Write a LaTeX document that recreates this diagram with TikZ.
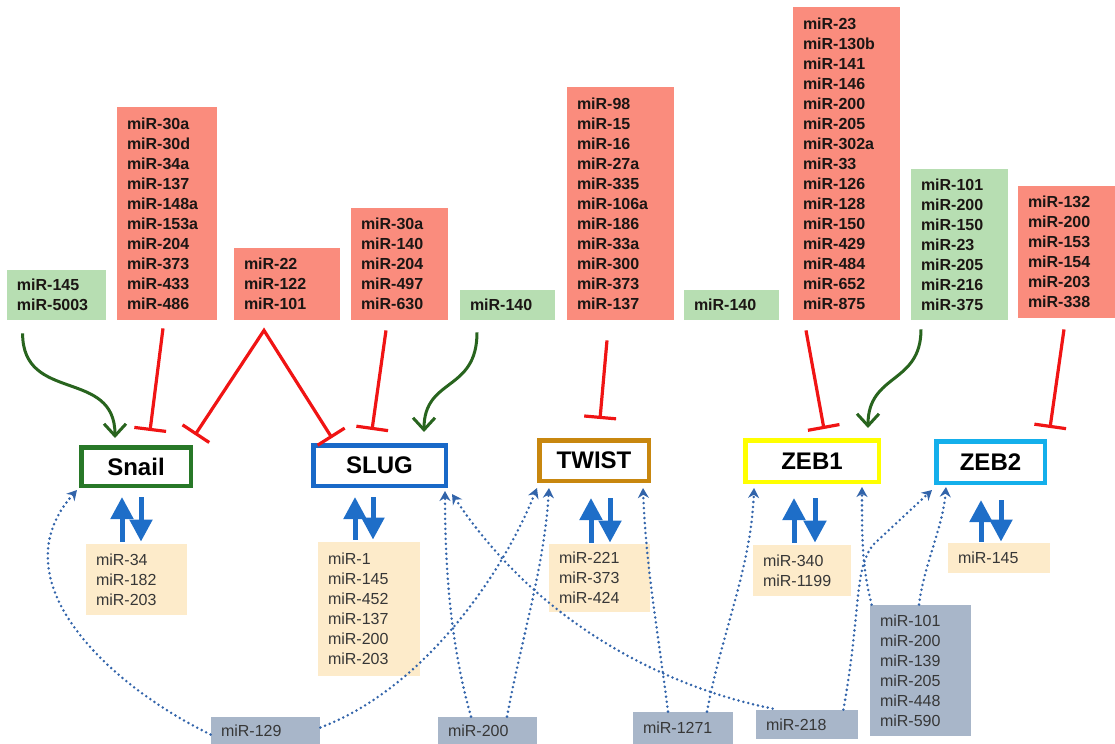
\documentclass[tikz,border=0pt]{standalone}
\usepackage{fontspec}
\setmainfont{Liberation Sans}
\usetikzlibrary{arrows.meta,calc}

\definecolor{RedFill}{RGB}{250,140,125}
\definecolor{GreenFill}{RGB}{183,222,178}
\definecolor{CreamFill}{RGB}{253,235,202}
\definecolor{GrayFill}{RGB}{168,182,201}
\definecolor{TopText}{RGB}{28,22,20}
\definecolor{LowText}{RGB}{55,55,55}
\definecolor{InhRed}{RGB}{240,20,20}
\definecolor{ActGreen}{RGB}{40,100,30}
\definecolor{LinkBlue}{RGB}{50,100,170}
\definecolor{ExBlue}{RGB}{30,110,200}
\definecolor{SnailC}{RGB}{40,120,40}
\definecolor{SlugC}{RGB}{25,105,200}
\definecolor{TwistC}{RGB}{200,135,15}
\definecolor{ZebOneC}{RGB}{255,255,0}
\definecolor{ZebTwoC}{RGB}{20,175,235}

\begin{document}
\begin{tikzpicture}[x=0.5pt,y=-0.5pt,
  mirtop/.style={inner xsep=5pt, inner ysep=0pt, align=left,
    font=\bfseries\fontsize{8}{10}\selectfont, text=TopText},
  redbox/.style={mirtop, fill=RedFill},
  greenbox/.style={mirtop, fill=GreenFill},
  mirlow/.style={inner xsep=5pt, inner ysep=0pt, align=left,
    font=\fontsize{8}{10}\selectfont, text=LowText},
  creambox/.style={mirlow, fill=CreamFill},
  graybox/.style={mirlow, fill=GrayFill},
  tf/.style={draw, line width=2.25pt, fill=white, inner sep=0pt,
    font=\bfseries\fontsize{12}{14}\selectfont, text=black},
  inhibit/.style={draw=InhRed, line width=1.6pt,
    -{Bar[width=16pt,line width=1.6pt]}},
  inhibitboth/.style={draw=InhRed, line width=1.6pt, line join=miter,
    {Bar[width=16pt,line width=1.6pt]}-{Bar[width=16pt,line width=1.6pt]}},
  activate/.style={draw=ActGreen, line width=1.5pt,
    -{Straight Barb[length=6pt,width=11pt,line width=1.5pt]}},
  link/.style={draw=LinkBlue, line width=1.4pt, dash pattern=on 0pt off 2.5pt,
    line cap=round, -{Stealth[length=5pt,width=5.5pt]}},
  exch/.style={draw=ExBlue, line width=2.5pt,
    -{Triangle[length=11pt,width=11pt]}}
]
\useasboundingbox (0,0) rectangle (1115,744);

% upstream miRNA groups
\node[greenbox, text width=39.5pt, minimum height=25pt] (g1) at (56.5,295) {miR-145\\miR-5003};
\node[redbox, text width=40pt, minimum height=106.5pt] (r1) at (167,213.5)
  {miR-30a\\miR-30d\\miR-34a\\miR-137\\miR-148a\\miR-153a\\miR-204\\miR-373\\miR-433\\miR-486};
\node[redbox, text width=43pt, minimum height=36pt] (r2) at (287,284) {miR-22\\miR-122\\miR-101};
\node[redbox, text width=38.5pt, minimum height=56pt] (r3) at (399.5,264)
  {miR-30a\\miR-140\\miR-204\\miR-497\\miR-630};
\node[greenbox, text width=37.5pt, minimum height=15pt] (g2) at (507.5,305) {miR-140};
\node[redbox, text width=43.5pt, minimum height=116.5pt] (r4) at (620.5,203.5)
  {miR-98\\miR-15\\miR-16\\miR-27a\\miR-335\\miR-106a\\miR-186\\miR-33a\\miR-300\\miR-373\\miR-137};
\node[greenbox, text width=37.5pt, minimum height=15pt] (g3) at (731.5,305) {miR-140};
\node[redbox, text width=43.5pt, minimum height=156.5pt] (r5) at (846.5,163.5)
  {miR-23\\miR-130b\\miR-141\\miR-146\\miR-200\\miR-205\\miR-302a\\miR-33\\miR-126\\miR-128\\miR-150\\miR-429\\miR-484\\miR-652\\miR-875};
\node[greenbox, text width=38.5pt, minimum height=75.5pt] (g4) at (959.5,244.5)
  {miR-101\\miR-200\\miR-150\\miR-23\\miR-205\\miR-216\\miR-375};
\node[redbox, text width=38.5pt, minimum height=66pt] (r6) at (1066.5,252)
  {miR-132\\miR-200\\miR-153\\miR-154\\miR-203\\miR-338};

% transcription factors
\node[tf, draw=SnailC, minimum width=54.75pt, minimum height=19.25pt] (snail) at (136,466.5) {Snail};
\node[tf, draw=SlugC, minimum width=66.25pt, minimum height=20.25pt] (slug) at (379.5,465.5) {SLUG};
\node[tf, draw=TwistC, minimum width=54.75pt, minimum height=20.25pt] (twist) at (594,460.5) {TWIST};
\node[tf, draw=ZebOneC, minimum width=66.75pt, minimum height=20.75pt] (zeb1) at (812,461) {ZEB1};
\node[tf, draw=ZebTwoC, minimum width=54.25pt, minimum height=20.75pt] (zeb2) at (990.5,462) {ZEB2};

% feedback miRNA groups
\node[creambox, text width=40.5pt, minimum height=35.5pt] (y1) at (136.5,579.5) {miR-34\\miR-182\\miR-203};
\node[creambox, text width=41pt, minimum height=67pt] (y2) at (369,609)
  {miR-1\\miR-145\\miR-452\\miR-137\\miR-200\\miR-203};
\node[creambox, text width=40.5pt, minimum height=34pt] (y3) at (599.5,578) {miR-221\\miR-373\\miR-424};
\node[creambox, text width=39pt, minimum height=25.5pt] (y4) at (802,570.5) {miR-340\\miR-1199};
\node[creambox, text width=41pt, minimum height=15pt] (y5) at (999,558) {miR-145};

% shared regulators
\node[graybox, text width=44.5pt, minimum height=13.5pt] (m129) at (265.5,730.5) {miR-129};
\node[graybox, text width=39.5pt, minimum height=13.5pt] (m200) at (487.5,730.5) {miR-200};
\node[graybox, text width=40pt, minimum height=16pt] (m1271) at (683,728) {miR-1271};
\node[graybox, text width=41pt, minimum height=14.5pt] (m218) at (807,724.5) {miR-218};
\node[graybox, text width=40.5pt, minimum height=65.5pt] (m101) at (920.5,670.5)
  {miR-101\\miR-200\\miR-139\\miR-205\\miR-448\\miR-590};

% activating inputs
\draw[activate] ($(g1.south west)+(16,13)$) .. controls +(0,70) and +(0,-70) .. ($(snail.north)+(-21,-7)$);
\draw[activate] ($(g2.south)+(-30.5,12)$) .. controls +(0,60) and +(0,-55) .. ($(slug.north)+(44.5,-11)$);
\draw[activate] ($(g4.south)+(-38.5,9)$) .. controls +(0,55) and +(0,-55) .. ($(zeb1.north)+(56,-10)$);

% repressing inputs
\draw[inhibit] ($(r1.south)+(-4,8)$) -- ($(snail.north)+(14,-14)$);
\draw[inhibitboth] ($(snail.north)+(59,-10)$) -- ($(r2.south)+(-23,10)$) -- ($(slug.north)+(-47.5,-5)$);
\draw[inhibit] ($(r3.south)+(-13.5,10)$) -- ($(slug.north)+(-7.5,-13)$);
\draw[inhibit] ($(r4.south)+(-13.5,20)$) -- ($(twist.north)+(6,-19)$);
\draw[inhibit] ($(r5.south)+(-40.5,10)$) -- ($(zeb1.north)+(12,-9)$);
\draw[inhibit] ($(r6.south)+(-2.5,11)$) -- ($(zeb2.north)+(59.5,-11)$);

% reciprocal loops
\draw[exch] ($(y1.north)+(-14.5,-2)$) -- ($(snail.south)+(-14,9)$);
\draw[exch] ($(snail.south)+(5,9)$) -- ($(y1.north)+(4.5,-2)$);
\draw[exch] ($(y2.north)+(-14,-2)$) -- ($(slug.south)+(-24.5,9)$);
\draw[exch] ($(slug.south)+(-6.5,9)$) -- ($(y2.north)+(4,-2)$);
\draw[exch] ($(y3.north)+(-8.5,-1)$) -- ($(twist.south)+(-3,15)$);
\draw[exch] ($(twist.south)+(16,15)$) -- ($(y3.north)+(10.5,-1)$);
\draw[exch] ($(y4.north)+(-8,-2)$) -- ($(zeb1.south)+(-18,14)$);
\draw[exch] ($(zeb1.south)+(3,14)$) -- ($(y4.north)+(13,-2)$);
\draw[exch] ($(y5.north)+(-18,-1)$) -- ($(zeb2.south)+(-9.5,15)$);
\draw[exch] ($(zeb2.south)+(10.5,15)$) -- ($(y5.north)+(2,-1)$);

% shared regulator links
\draw[link] ($(m129.west)+(0,4)$) .. controls +(-103,-50) and +(-80,90) .. ($(snail.south west)+(-2,2)$);
\draw[link] ($(m129.east)+(0,-3)$) .. controls +(100,-37.5) and +(-37,92) .. ($(twist.south west)+(0,5)$);
\draw[link] ($(m200.north)+(-16.5,0)$) .. controls +(-20,-70) and +(0,80) .. ($(slug.south east)+(-3,3)$);
\draw[link] ($(m200.north)+(19.5,0)$) .. controls +(15,-80) and +(-5,80) .. ($(twist.south west)+(12,5)$);
\draw[link] ($(m218.north west)+(17,-1)$) .. controls +(-100,-20) and +(90,135) .. ($(slug.south east)+(4,6)$);
\draw[link] ($(m1271.north)+(-15,0)$) .. controls +(-10,-80) and +(3,80) .. ($(twist.south east)+(-8,5)$);
\draw[link] ($(m1271.north)+(24,0)$) .. controls +(15,-80) and +(-3,80) .. ($(zeb1.south west)+(11,4)$);
\draw[link] ($(m218.north east)+(-15,0)$) .. controls +(18,-100) and +(-20,25) .. ++(30,-165) -- ($(zeb2.south west)+(-2,5)$);
\draw[link] ($(m101.north west)+(2,0)$) .. controls +(-10,-40) and +(0,50) .. ($(zeb1.south east)+(-19,3)$);
\draw[link] ($(m101.north)+(-1.5,0)$) .. controls +(5,-40) and +(-3,40) .. ($(zeb2.south west)+(12,2)$);
\end{tikzpicture}
\end{document}
